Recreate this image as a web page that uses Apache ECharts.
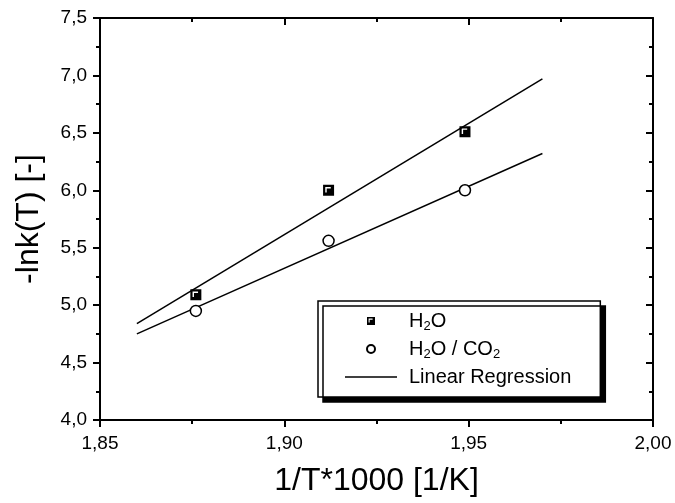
<!DOCTYPE html>
<html>
<head>
<meta charset="utf-8">
<script src="https://cdn.jsdelivr.net/npm/echarts@6/dist/echarts.min.js"></script>
<style>
html,body{margin:0;padding:0;background:#fff;}
#chart{width:675px;height:503px;}
</style>
</head>
<body>
<div id="chart"></div>
<script>
// ---- data ----
var xPoints = [1.876, 1.912, 1.949];
var yH2O = [5.09, 6.00, 6.51];
var yH2OCO2 = [4.95, 5.56, 6.00];
var regX = [1.86, 1.97];
var regH2O = [4.84, 6.97];
var regH2OCO2 = [4.75, 6.32];
var xTicks = { min: 1.85, max: 2.00, interval: 0.05 };
var yTicks = { min: 4.0, max: 7.5, interval: 0.5 };
var seriesNames = ['H2O', 'H2O / CO2', 'Linear Regression'];

function pairs(xs, ys) { return xs.map(function (x, i) { return [x, ys[i]]; }); }

var FONT = 'Liberation Sans, Arial, sans-serif';
var squareIcon = 'path://M0,0 L10,0 L10,10 L0,10 Z M2,2 L2,7 L3.3,7 L3.3,3.3 L7,3.3 L7,2 Z';
var lineIcon = 'path://M0,0 L52,0 L52,1.5 L0,1.5 Z';

var chart = echarts.init(document.getElementById('chart'), null, { renderer: 'canvas' });

function tickStyle(inside) {
  return {
    axisTick: { show: true, inside: inside, length: 7, lineStyle: { color: '#000', width: 2 } },
    minorTick: { show: true, splitNumber: 2, length: 4, lineStyle: { color: '#000', width: 2 } }
  };
}
var axisLineStyle = { show: true, onZero: false, lineStyle: { color: '#000', width: 2 } };

var option = {
  animation: false,
  backgroundColor: '#fff',
  textStyle: { fontFamily: FONT, color: '#000' },
  grid: { left: 100, right: 22, top: 18, bottom: 83, containLabel: false },
  xAxis: [
    Object.assign({
      type: 'value', min: xTicks.min, max: xTicks.max, interval: xTicks.interval,
      position: 'bottom', axisLine: axisLineStyle, splitLine: { show: false },
      name: '1/T*1000 [1/K]', nameLocation: 'middle', nameGap: 45,
      nameTextStyle: { fontSize: 32, color: '#000', fontFamily: FONT },
      axisLabel: { show: true, margin: 14, fontSize: 19, color: '#000', fontFamily: FONT,
        formatter: function (v) { return v.toFixed(2).replace('.', ','); } }
    }, tickStyle(false)),
    Object.assign({
      type: 'value', min: xTicks.min, max: xTicks.max, interval: xTicks.interval,
      position: 'top', axisLine: axisLineStyle, splitLine: { show: false },
      axisLabel: { show: false }
    }, tickStyle(true))
  ],
  yAxis: [
    Object.assign({
      type: 'value', min: yTicks.min, max: yTicks.max, interval: yTicks.interval,
      position: 'left', axisLine: axisLineStyle, splitLine: { show: false },
      name: '-lnk(T) [-]', nameLocation: 'middle', nameGap: 55, nameRotate: 90,
      nameTextStyle: { fontSize: 32, color: '#000', fontFamily: FONT },
      axisLabel: { show: true, margin: 13, fontSize: 19, color: '#000', fontFamily: FONT,
        formatter: function (v) { return v.toFixed(1).replace('.', ','); } }
    }, tickStyle(false)),
    Object.assign({
      type: 'value', min: yTicks.min, max: yTicks.max, interval: yTicks.interval,
      position: 'right', axisLine: axisLineStyle, splitLine: { show: false },
      axisLabel: { show: false }
    }, tickStyle(true))
  ],
  legend: {
    show: true,
    orient: 'vertical',
    left: 318, top: 301,
    padding: [8, 29, 8, 27],
    itemWidth: 52, itemHeight: 8, itemGap: 4,
    backgroundColor: '#fff',
    borderColor: '#000', borderWidth: 1.5,
    shadowColor: '#000', shadowBlur: 0, shadowOffsetX: 5, shadowOffsetY: 5,
    symbolKeepAspect: true,
    selectedMode: false,
    data: [
      { name: seriesNames[0], icon: squareIcon },
      { name: seriesNames[1], icon: 'circle' },
      { name: seriesNames[2], icon: lineIcon }
    ],
    formatter: function (name) {
      if (name === 'H2O') return '{g| }{n|H}{s|2}{n|O}';
      if (name === 'H2O / CO2') return '{g| }{n|H}{s|2}{n|O / CO}{s|2}';
      return '{g| }{n|' + name + '}';
    },
    textStyle: {
      fontFamily: FONT, color: '#000', fontSize: 20, lineHeight: 24,
      rich: {
        g: { width: 7, fontSize: 20, lineHeight: 24 },
        n: { fontSize: 20, lineHeight: 24, fontFamily: FONT, color: '#000' },
        s: { fontSize: 13, lineHeight: 12, verticalAlign: 'bottom', fontFamily: FONT, color: '#000' }
      }
    }
  },
  series: [
    {
      name: seriesNames[2], type: 'line', xAxisIndex: 0, yAxisIndex: 0,
      data: pairs(regX, regH2O), symbol: 'none', z: 2,
      lineStyle: { color: '#000', width: 1.5 }, itemStyle: { color: '#000' }
    },
    {
      name: seriesNames[2], type: 'line', xAxisIndex: 0, yAxisIndex: 0,
      data: pairs(regX, regH2OCO2), symbol: 'none', z: 2,
      lineStyle: { color: '#000', width: 1.5 }, itemStyle: { color: '#000' }
    },
    {
      name: seriesNames[0], type: 'scatter', xAxisIndex: 0, yAxisIndex: 0,
      data: pairs(xPoints, yH2O), symbol: squareIcon, symbolSize: 11, z: 5,
      itemStyle: { color: '#000', opacity: 1 }
    },
    {
      name: seriesNames[1], type: 'scatter', xAxisIndex: 0, yAxisIndex: 0,
      data: pairs(xPoints, yH2OCO2), symbol: 'circle', symbolSize: 11, z: 5,
      itemStyle: { color: '#fff', borderColor: '#000', borderWidth: 1.5, opacity: 1 }
    }
  ]
};
chart.setOption(option);
</script>
</body>
</html>
